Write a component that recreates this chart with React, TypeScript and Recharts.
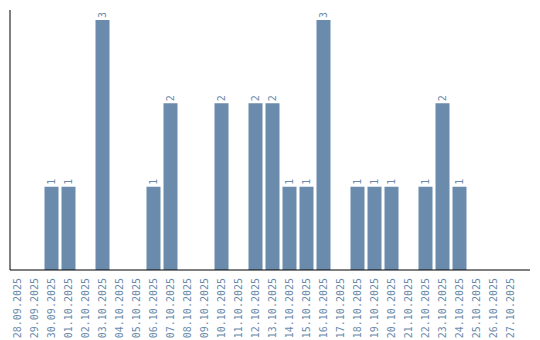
import { BarChart, Bar, XAxis, YAxis, LabelList } from 'recharts';

const days = [
  '28.09.2025', '29.09.2025', '30.09.2025', '01.10.2025', '02.10.2025', '03.10.2025',
  '04.10.2025', '05.10.2025', '06.10.2025', '07.10.2025', '08.10.2025', '09.10.2025',
  '10.10.2025', '11.10.2025', '12.10.2025', '13.10.2025', '14.10.2025', '15.10.2025',
  '16.10.2025', '17.10.2025', '18.10.2025', '19.10.2025', '20.10.2025', '21.10.2025',
  '22.10.2025', '23.10.2025', '24.10.2025', '25.10.2025', '26.10.2025', '27.10.2025',
];

const counts = [
  0, 0, 1, 1, 0, 3,
  0, 0, 1, 2, 0, 0,
  2, 0, 2, 2, 1, 1,
  3, 0, 1, 1, 1, 0,
  1, 2, 1, 0, 0, 0,
];

const data = days.map((day, i) => ({ day, count: counts[i] }));

const BLUE = '#6a8bab';
const FONT = '"DejaVu Sans Mono", monospace';

const DayTick = ({ x, y, payload }: any) => (
  <g transform={`translate(${x},${y})`}>
    <text
      transform="rotate(-90)"
      x={0}
      y={0}
      dy={3.5}
      textAnchor="end"
      fill={BLUE}
      fontSize={10}
      fontFamily={FONT}
    >
      {payload.value}
    </text>
  </g>
);

const CountLabel = ({ x, y, width, value }: any) => {
  if (!value) return null;
  return (
    <text
      transform={`translate(${x + width / 2},${y - 2}) rotate(-90)`}
      dy={3.5}
      textAnchor="start"
      fill={BLUE}
      fontSize={10}
      fontFamily={FONT}
    >
      {value}
    </text>
  );
};

const App = () => {
  return (
    <BarChart
      width={532}
      height={332}
      data={data}
      margin={{ top: 2, right: 10, left: 1, bottom: 0 }}
    >
      <XAxis
        dataKey="day"
        interval={0}
        height={70}
        tickLine={false}
        axisLine={{ stroke: '#000' }}
        tick={<DayTick />}
        padding={{ left: -1.5, right: 11.5 }}
      />
      <YAxis
        width={1}
        domain={[0, 3.12]}
        tick={false}
        tickLine={false}
        axisLine={{ stroke: '#000' }}
        allowDataOverflow
      />
      <Bar dataKey="count" fill={BLUE} barSize={14} isAnimationActive={false}>
        <LabelList dataKey="count" content={<CountLabel />} />
      </Bar>
    </BarChart>
  );
};

export default App;
